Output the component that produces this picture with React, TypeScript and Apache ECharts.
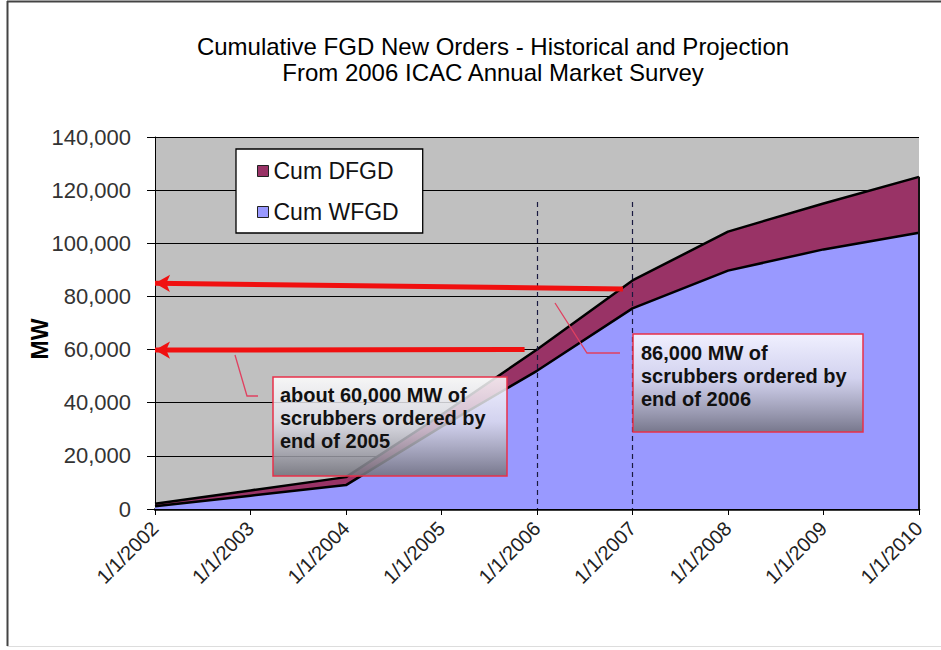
import React, { useEffect, useRef } from "react";
import * as echarts from "echarts";

const years = [2002, 2003, 2004, 2005, 2006, 2007, 2008, 2009, 2010];
const cumWFGD = [1000, 5000, 9000, 31000, 52000, 75500, 89700, 97700, 104000];
const cumDFGD = [1000, 2000, 3000, 4500, 8000, 10500, 14700, 17300, 21000];
const yTicks = [0, 20000, 40000, 60000, 80000, 100000, 120000, 140000];
const titleLines = [
  "Cumulative FGD New Orders - Historical and Projection",
  "From 2006 ICAC Annual Market Survey",
];
const seriesNames = ["Cum WFGD", "Cum DFGD"];
// arrows: [fromX, fromY, toX, toY]
const arrowUpper = [2006.9, 82800, 2002, 85000];
const arrowLower = [2005.87, 60000, 2002, 59800];
const dashedYears = [2006, 2007];
const dashedTop = 115500;
const noteLower = ["about 60,000 MW of", "scrubbers ordered by", "end of 2005"];
const noteUpper = ["86,000 MW of", "scrubbers ordered by", "end of 2006"];

export default function App() {
  const ref = useRef<HTMLDivElement>(null);
  useEffect(() => {
    if (!ref.current) return;
    const chart = echarts.init(ref.current, null, { renderer: "svg" });
    const font = "'Liberation Sans', Arial, sans-serif";
    // stacked top of the DFGD band
    const cumTotal = cumWFGD.map((w, i) => w + cumDFGD[i]);
    const last = years.length - 1;
    const boxFill = {
      type: "linear",
      x: 0,
      y: 0,
      x2: 0,
      y2: 1,
      colorStops: [
        { offset: 0, color: "rgba(255,255,255,0.85)" },
        { offset: 0.45, color: "rgba(225,225,235,0.8)" },
        { offset: 1, color: "rgba(115,115,125,0.88)" },
      ],
    };
    const option: any = {
      animation: false,
      backgroundColor: "#ffffff",
      title: {
        text: titleLines.join("\n"),
        left: 488,
        top: 28,
        textAlign: "center",
        textStyle: {
          fontFamily: font,
          fontSize: 24,
          fontWeight: "normal",
          color: "#000",
          lineHeight: 26,
        },
      },
      legend: {
        left: 236,
        top: 149,
        orient: "vertical",
        icon: "rect",
        itemWidth: 11,
        itemHeight: 11,
        itemGap: 17,
        padding: [10, 24, 9, 21],
        backgroundColor: "#fff",
        borderColor: "#000",
        borderWidth: 1.3,
        borderRadius: 0,
        selectedMode: false,
        textStyle: { fontFamily: font, fontSize: 23, color: "#111", lineHeight: 24 },
        data: [
          { name: "Cum DFGD", itemStyle: { color: "#993366", borderColor: "#222", borderWidth: 1 } },
          { name: "Cum WFGD", itemStyle: { color: "#9999FF", borderColor: "#222", borderWidth: 1 } },
        ],
      },
      grid: {
        left: 155,
        right: 22,
        top: 137,
        bottom: 141,
        show: true,
        backgroundColor: "#C0C0C0",
        borderWidth: 0,
        outerBoundsMode: "none",
        containLabel: false,
      },
      xAxis: {
        type: "value",
        min: years[0],
        max: years[last],
        interval: 1,
        axisLine: { show: true, onZero: false, lineStyle: { color: "#000", width: 2.5 } },
        axisTick: { show: true, length: 6, lineStyle: { color: "#000", width: 1 } },
        splitLine: { show: false },
        axisLabel: {
          rotate: 45,
          margin: 16,
          fontFamily: font,
          fontSize: 20,
          color: "#222",
          formatter: (v: number) => "1/1/" + v,
        },
      },
      yAxis: {
        type: "value",
        min: yTicks[0],
        max: yTicks[yTicks.length - 1],
        interval: 20000,
        axisLine: { show: true, lineStyle: { color: "#000", width: 1 } },
        axisTick: { show: true, length: 8, lineStyle: { color: "#000" } },
        splitLine: { show: true, lineStyle: { color: "#000", width: 1 } },
        axisLabel: {
          margin: 24,
          fontFamily: font,
          fontSize: 22,
          color: "#333",
          formatter: (v: number) => v.toLocaleString("en-US"),
        },
      },
      series: [
        {
          name: seriesNames[1],
          type: "line",
          symbol: "none",
          silent: true,
          data: years.map((y, i) => [y, cumTotal[i]]),
          itemStyle: { color: "#993366" },
          lineStyle: { color: "#000", width: 2.5 },
          areaStyle: { color: "#993366", opacity: 1 },
          z: 2,
        },
        {
          name: seriesNames[0],
          type: "line",
          symbol: "none",
          silent: true,
          data: years.map((y, i) => [y, cumWFGD[i]]),
          itemStyle: { color: "#9999FF" },
          lineStyle: { color: "#000", width: 2.5 },
          areaStyle: { color: "#9999FF", opacity: 1 },
          z: 3,
          markLine: {
            silent: true,
            symbol: ["none", "none"],
            label: { show: false },
            emphasis: { disabled: true },
            data: [
              [
                { coord: [years[last], cumTotal[last]], lineStyle: { color: "#111", width: 2, type: "solid" } },
                { coord: [years[last], 0] },
              ],
              ...dashedYears.map((yr) => [
                {
                  coord: [yr, dashedTop],
                  lineStyle: { color: "#1a1a40", width: 1.2, type: [5, 4] },
                },
                { coord: [yr, 0] },
              ]),
              [
                { coord: [arrowUpper[0], arrowUpper[1]], lineStyle: { color: "#F01010", width: 5, type: "solid" } },
                { coord: [arrowUpper[2], arrowUpper[3]], symbol: "arrow", symbolSize: [13, 15] },
              ],
              [
                { coord: [arrowLower[0], arrowLower[1]], lineStyle: { color: "#F01010", width: 5, type: "solid" } },
                { coord: [arrowLower[2], arrowLower[3]], symbol: "arrow", symbolSize: [13, 15] },
              ],
            ],
          },
        },
      ],
      graphic: [
        { type: "line", z: 100, shape: { x1: 7, y1: 1.5, x2: 941, y2: 1.5 }, style: { stroke: "#444", lineWidth: 2 } },
        { type: "line", z: 100, shape: { x1: 7.5, y1: 1, x2: 7.5, y2: 646 }, style: { stroke: "#444", lineWidth: 2 } },
        { type: "line", z: 100, shape: { x1: 7, y1: 646.5, x2: 941, y2: 646.5 }, style: { stroke: "#ddd", lineWidth: 1 } },
        {
          type: "text",
          z: 100,
          x: 40,
          y: 339,
          rotation: Math.PI / 2,
          style: {
            text: "MW",
            font: "bold 23px 'Liberation Sans', Arial, sans-serif",
            fill: "#000",
            align: "center",
            verticalAlign: "middle",
          },
        },
        {
          type: "polyline",
          z: 100,
          shape: { points: [[235, 355], [247, 396], [258, 396]] },
          style: { stroke: "#E04060", lineWidth: 1.3, fill: null },
        },
        {
          type: "polyline",
          z: 100,
          shape: { points: [[555, 303], [587, 353], [620, 353]] },
          style: { stroke: "#E04060", lineWidth: 1.3, fill: null },
        },
        {
          type: "rect",
          z: 100,
          shape: { x: 273, y: 377, width: 234, height: 99 },
          style: { fill: boxFill, stroke: "#E8304A", lineWidth: 1.5 },
        },
        {
          type: "rect",
          z: 100,
          shape: { x: 633, y: 334, width: 230, height: 98 },
          style: { fill: boxFill, stroke: "#E8304A", lineWidth: 1.5 },
        },
        {
          type: "text",
          z: 101,
          x: 280,
          y: 383.5,
          style: {
            text: noteLower.join("\n"),
            font: "bold 20px 'Liberation Sans', Arial, sans-serif",
            lineHeight: 23,
            fill: "#111",
            verticalAlign: "top",
          },
        },
        {
          type: "text",
          z: 101,
          x: 641,
          y: 341.5,
          style: {
            text: noteUpper.join("\n"),
            font: "bold 20px 'Liberation Sans', Arial, sans-serif",
            lineHeight: 23,
            fill: "#111",
            verticalAlign: "top",
          },
        },
      ],
    };
    chart.setOption(option);
    return () => chart.dispose();
  }, []);
  return (
    <div
      ref={ref}
      style={{ position: "fixed", left: 0, top: 0, width: 941, height: 650, background: "#fff" }}
    />
  );
}
